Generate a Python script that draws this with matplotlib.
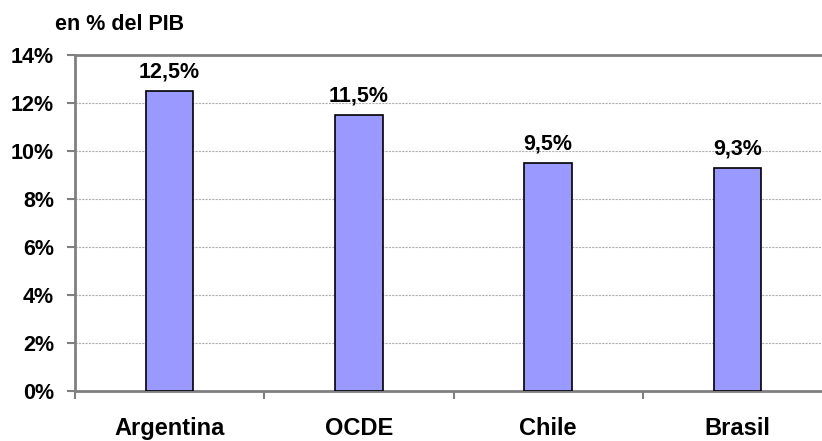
import numpy as np
import matplotlib.pyplot as plt
from matplotlib.ticker import MultipleLocator, FuncFormatter

countries = ["Argentina", "OCDE", "Chile", "Brasil"]
values = [12.5, 11.5, 9.5, 9.3]
labels = ["12,5%", "11,5%", "9,5%", "9,3%"]


def main():
    plt.rcParams['font.family'] = ['Liberation Sans', 'DejaVu Sans']
    plt.rcParams['font.weight'] = 'bold'

    fig = plt.figure(figsize=(8.22, 4.41), dpi=100)
    ax = fig.add_axes([75 / 822, 1 - 391 / 441, 757 / 822, 336 / 441])

    x = np.arange(len(countries))
    bars = ax.bar(x, values, width=0.25, color='#9999FF', edgecolor='black',
                  linewidth=1.2, zorder=3)

    for b, lab in zip(bars, labels):
        ax.annotate(lab, (b.get_x() + b.get_width() / 2, b.get_height()),
                    xytext=(0, 6), textcoords='offset points',
                    ha='center', va='bottom', fontsize=15.5, fontweight='bold')

    ax.set_xlim(-0.5, len(countries) - 0.5)
    ax.set_ylim(0, 14)
    ax.yaxis.set_major_locator(MultipleLocator(2))
    ax.yaxis.set_major_formatter(FuncFormatter(lambda v, p: f"{v:.0f}%"))
    ax.grid(axis='y', color='#b0b0b0', linestyle=(0, (2, 1)), linewidth=0.8, zorder=0)

    # category borders as major ticks, names as minor tick labels
    ax.set_xticks(np.arange(len(countries) + 1) - 0.5)
    ax.set_xticklabels([])
    ax.set_xticks(x, minor=True)
    ax.set_xticklabels(countries, minor=True, fontsize=17, fontweight='bold')
    ax.tick_params(axis='x', which='minor', length=0, pad=19)
    ax.tick_params(axis='x', which='major', length=6, color='#808080', width=1.5)
    ax.tick_params(axis='y', length=6, color='#808080', width=1.5, labelsize=15.5, pad=9)

    for side in ['left', 'bottom', 'top']:
        ax.spines[side].set_color('#808080')
        ax.spines[side].set_linewidth(2)
    ax.spines['right'].set_visible(False)

    fig.text(55 / 822, 1 - 25 / 441, "en % del PIB", fontsize=15.5, fontweight='bold',
             ha='left', va='center')

    fig.savefig('out.png', dpi=100)


if __name__ == '__main__':
    main()
